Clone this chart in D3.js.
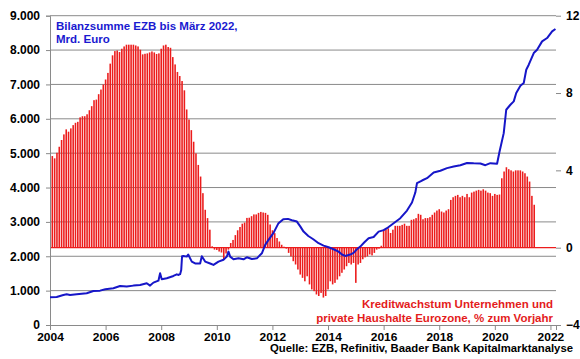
<!DOCTYPE html>
<html>
<head>
<meta charset="utf-8">
<script src="https://cdn.jsdelivr.net/npm/d3@7"></script>
<style>
  html, body { margin: 0; padding: 0; background: #fff; }
  svg { display: block; font-family: "Liberation Sans", Arial, sans-serif; }
</style>
</head>
<body>
<svg id="chart" width="580" height="359"></svg>
<script>
// ---------- DATA ----------
// Credit growth (% yoy), monthly from Jan 2004 (right axis)
const creditStartYear = 2004;
const creditGrowth = [
  4.74, 4.62, 4.91, 5.22, 5.57, 5.86, 6.12, 6.0, 6.17, 6.34, 6.46, 6.51,
  6.74, 6.8, 6.8, 6.9, 7.11, 7.32, 7.63, 7.66, 7.94, 8.18, 8.44, 8.70,
  9.04, 9.52, 9.95, 10.17, 10.2, 10.12, 10.29, 10.41, 10.5, 10.5, 10.5, 10.5,
  10.46, 10.41, 10.24, 10.0, 10.03, 10.05, 10.1, 10.15, 10.1, 10.02, 10.05, 10.29,
  10.46, 10.5, 10.38, 10.34, 9.86, 9.48, 9.09, 8.88, 8.62, 8.14, 7.15, 6.63,
  6.08, 5.48, 4.88, 4.28, 3.68, 2.82, 1.96, 1.53, 0.93, 0.07, -0.1, -0.12,
  -0.2, -0.25, -0.62, -0.3, -0.1, 0.24, 0.4, 0.65, 0.9, 1.07, 1.24, 1.3,
  1.54, 1.55, 1.63, 1.72, 1.72, 1.8, 1.85, 1.82, 1.8, 1.7, 1.2, 0.9,
  0.75, 0.5, 0.32, 0.15, 0.05, -0.05,
  -0.27, -0.45, -0.7, -0.87, -1.13, -1.39, -1.56, -1.74, -1.48, -1.9,
  -2.16, -2.25, -2.42, -2.5, -2.34, -2.58, -2.5, -2.16, -1.74, -1.9,
  -1.82, -1.65, -1.48, -1.3, -1.13, -0.96, -0.79, -0.87, -0.79, -1.82,
  -0.87, -0.79, -0.6, -0.5, -0.45, -0.35, -0.4, -0.27, -0.1, -0.05,
  0.1, 0.93, 0.95, 1.0, 0.76, 0.93, 1.13, 1.13, 1.13, 1.18,
  1.24, 1.13, 1.13, 1.44, 1.47, 1.53, 1.75, 1.7, 1.47, 1.53,
  1.53, 1.58, 1.7, 1.82, 1.92, 1.99, 1.87, 1.82, 1.92, 1.99,
  2.47, 2.61, 2.68, 2.73, 2.61, 2.68, 2.61, 2.78, 2.61, 2.85,
  2.9, 2.95, 2.99, 2.95, 3.02, 2.95, 2.85, 2.82, 2.68, 2.78,
  2.73, 2.75, 3.59, 3.94, 4.16, 4.06, 4.0, 3.94, 4.0, 4.0,
  4.0, 3.94, 3.85, 3.68, 3.42, 2.68, 2.22
];

// ECB balance sheet (bn EUR), left axis
const balanceDates = [
  2004.00, 2004.24, 2004.48, 2004.60, 2004.72, 2004.96, 2005.32, 2005.56, 2005.80, 2005.99,
  2006.28, 2006.52, 2006.76, 2007.00, 2007.24, 2007.48, 2007.60, 2007.72, 2007.90, 2007.96,
  2008.02, 2008.20, 2008.44, 2008.56, 2008.61, 2008.68, 2008.72, 2008.75, 2008.80, 2008.92,
  2008.97, 2009.10, 2009.22, 2009.40, 2009.46, 2009.58, 2009.76, 2009.88, 2010.06, 2010.24,
  2010.36, 2010.42, 2010.48, 2010.60, 2010.78, 2010.96, 2011.08, 2011.26, 2011.44, 2011.62,
  2011.74, 2011.86, 2012.04, 2012.21, 2012.39, 2012.56, 2012.70, 2012.88, 2013.00, 2013.12,
  2013.29, 2013.47, 2013.66, 2013.84, 2014.02, 2014.20, 2014.38, 2014.50, 2014.62, 2014.80,
  2014.92, 2015.04, 2015.16, 2015.30, 2015.46, 2015.64, 2015.82, 2016.00, 2016.12, 2016.36,
  2016.60, 2016.84, 2017.02, 2017.14, 2017.20, 2017.38, 2017.56, 2017.80, 2018.04, 2018.28,
  2018.52, 2018.76, 2019.00, 2019.24, 2019.48, 2019.66, 2019.84, 2020.08, 2020.17, 2020.32,
  2020.41, 2020.56, 2020.68, 2020.77, 2020.92, 2021.04, 2021.13, 2021.22, 2021.40, 2021.52,
  2021.70, 2021.88, 2022.06, 2022.18
];
const balanceValues = [
  807, 813, 874, 893, 874, 893, 922, 990, 1000, 1040,
  1068, 1136, 1117, 1146, 1165, 1214, 1146, 1233, 1290, 1505,
  1330, 1360, 1427, 1476, 1456, 1480, 1600, 2000, 2010, 1990,
  2050, 1845, 1790, 1790, 2000, 1845, 1790, 1748, 1845, 1900,
  1990, 2135, 1990, 1912, 1940, 1912, 1970, 1920, 1940, 2087,
  2330, 2476, 2680, 2950, 3079, 3088, 3050, 3010, 2870, 2718,
  2590, 2496, 2380, 2311, 2262, 2204, 2135, 2050, 2010, 2050,
  2100, 2204, 2282, 2400, 2525, 2560, 2718, 2760, 2816, 2962,
  3108, 3330, 3563, 3854, 4127, 4204, 4273, 4437, 4490, 4564,
  4612, 4650, 4715, 4705, 4700, 4650, 4710, 4690, 5050, 5583,
  6263, 6409, 6506, 6750, 6962, 7041, 7428, 7574, 7914, 8011,
  8253, 8350, 8544, 8612
];

const xTicks = [2004, 2006, 2008, 2010, 2012, 2014, 2016, 2018, 2020, 2022];
const leftTicks = [0, 1000, 2000, 3000, 4000, 5000, 6000, 7000, 8000, 9000];
const rightTicks = [-4, 0, 4, 8, 12];

const titleBlue = ["Bilanzsumme EZB bis März 2022,", "Mrd. Euro"];
const titleRed = ["Kreditwachstum Unternehmen und", "private Haushalte Eurozone, % zum Vorjahr"];
const sourceText = "Quelle: EZB, Refinitiv, Baader Bank Kapitalmarktanalyse";

// ---------- CHART ----------
const svg = d3.select("#chart");
const L = 50, R = 556, T = 15.7, B = 325;

const x = d3.scaleLinear().domain([2004, 2022.2]).range([L, R]);
const yL = d3.scaleLinear().domain([0, 9000]).range([B, T]);
const yR = d3.scaleLinear().domain([-4, 12]).range([B, T]);

const de = d3.formatLocale({decimal: ",", thousands: ".", grouping: [3], currency: ["", "€"]});
const fmtL = de.format(",d");

const gridColor = "#8a8a8a";
const red = "#ec1c1c";
const blue = "#1616c8";
const font = "'Liberation Sans', Arial, sans-serif";

// gridlines
svg.append("g").selectAll("line").data(leftTicks.filter(d => d > 0)).join("line")
  .attr("x1", L).attr("x2", R)
  .attr("y1", d => yL(d)).attr("y2", d => yL(d))
  .attr("stroke", gridColor).attr("stroke-width", 1);

// bars
const bars = creditGrowth.map((v, i) => ({t: creditStartYear + (i + 1) / 12, v}));
const bw = (x(2005) - x(2004)) / 12 * 0.68;
svg.append("g").selectAll("rect").data(bars).join("rect")
  .attr("x", d => x(d.t) - bw / 2)
  .attr("width", bw)
  .attr("y", d => Math.min(yR(d.v), yR(0)))
  .attr("height", d => Math.abs(yR(d.v) - yR(0)))
  .attr("fill", red);

// red zero line
svg.append("line")
  .attr("x1", L).attr("x2", R)
  .attr("y1", yR(0)).attr("y2", yR(0))
  .attr("stroke", red).attr("stroke-width", 1.2);

// axes
const axL = svg.append("g").attr("transform", `translate(${L},0)`)
  .call(d3.axisLeft(yL).tickValues(leftTicks).tickFormat(fmtL).tickSize(4).tickPadding(6));
const axB = svg.append("g").attr("transform", `translate(0,${B})`)
  .call(d3.axisBottom(x).tickValues(xTicks).tickFormat(d3.format("d")).tickSize(5).tickPadding(3));
const axR = svg.append("g").attr("transform", `translate(${R},0)`)
  .call(d3.axisRight(yR).tickValues(rightTicks).tickSize(5).tickPadding(5));
axR.select(".domain").remove();
[axL, axB, axR].forEach(g => {
  g.selectAll(".domain").attr("stroke", gridColor);
  g.selectAll(".tick line").attr("stroke", gridColor);
  g.selectAll("text").attr("font-size", 12).attr("font-weight", "bold").attr("fill", "#000")
    .attr("font-family", font);
});
axB.selectAll("text").attr("font-size", 11).attr("transform", "scale(1.09,1)");

// blue line
const pts = balanceDates.map((t, i) => ({t, v: balanceValues[i]}));
svg.append("path").datum(pts)
  .attr("d", d3.line().x(d => x(d.t)).y(d => yL(d.v)))
  .attr("fill", "none").attr("stroke", blue).attr("stroke-width", 2)
  .attr("stroke-linejoin", "round");

// texts
const tb = svg.append("text").attr("font-size", 11.5).attr("font-weight", "bold").attr("fill", "#1a1ad0");
titleBlue.forEach((s, i) => tb.append("tspan").attr("x", 56).attr("y", 30 + i * 12.5).text(s));

const tr = svg.append("text").attr("font-size", 11.5).attr("font-weight", "bold").attr("fill", "#e41c1c")
  .attr("text-anchor", "end");
titleRed.forEach((s, i) => tr.append("tspan").attr("x", 553).attr("y", 308 + i * 13.7).text(s));

svg.append("text").attr("x", 573).attr("y", 352.4).attr("text-anchor", "end")
  .attr("font-size", 10).attr("font-weight", "bold").attr("fill", "#000")
  .attr("textLength", 303).attr("lengthAdjust", "spacingAndGlyphs")
  .text(sourceText);
</script>
</body>
</html>
